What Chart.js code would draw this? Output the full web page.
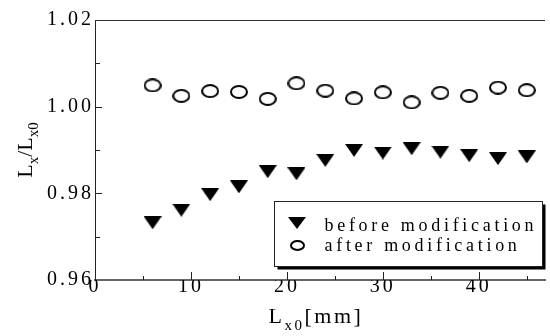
<!DOCTYPE html>
<html><head><meta charset="utf-8">
<script src="https://cdn.jsdelivr.net/npm/chart.js@4"></script>
<style>html,body{margin:0;padding:0;background:#fff;overflow:hidden}</style>
</head><body>
<canvas id="c" width="550" height="336"></canvas>
<script>
// ---- data ----
const xValues = [6, 9, 12, 15, 18, 21, 24, 27, 30, 33, 36, 39, 42, 45];
const beforeValues = [0.9732, 0.9761, 0.9797, 0.9815, 0.9850, 0.9845, 0.9876, 0.9899, 0.9893, 0.9903, 0.9895, 0.9887, 0.9880, 0.9884];
const afterValues = [1.0049, 1.0025, 1.0036, 1.0034, 1.0018, 1.0054, 1.0037, 1.0019, 1.0033, 1.0010, 1.0032, 1.0025, 1.0044, 1.0038];
const seriesLabels = ['before modification', 'after modification'];
const xTickLabels = ['0', '10', '20', '30', '40'];
const yTickLabels = ['0.96', '0.98', '1.00', '1.02'];

const SERIF = '"Liberation Serif", "Times New Roman", serif';

function makeEllipse(w, h, lw) {
  const c = document.createElement('canvas'); c.width = w; c.height = h;
  const g = c.getContext('2d'); g.lineWidth = lw; g.strokeStyle = '#000';
  g.beginPath(); g.ellipse(w / 2, h / 2, w / 2 - lw / 2, h / 2 - lw / 2, 0, 0, Math.PI * 2); g.stroke();
  return c;
}
function makeTriangle(w, h) {
  const c = document.createElement('canvas'); c.width = w; c.height = h;
  const g = c.getContext('2d'); g.fillStyle = '#000';
  g.beginPath(); g.moveTo(0, 0); g.lineTo(w, 0); g.lineTo(w / 2, h); g.closePath(); g.fill();
  return c;
}
const triMark = makeTriangle(18, 13);
const circMark = makeEllipse(18, 14, 2);
const triLegend = makeTriangle(18, 12);
const circLegend = makeEllipse(15, 11, 2);

function pts(ys) { return xValues.map((x, i) => ({ x: x, y: ys[i] })); }

function drawRich(ctx, parts, spacing) {
  let total = 0;
  ctx.letterSpacing = spacing + 'px';
  parts.forEach(p => { ctx.font = p[1] + 'px ' + SERIF; total += ctx.measureText(p[0]).width; });
  let x = -total / 2;
  parts.forEach(p => {
    ctx.font = p[1] + 'px ' + SERIF;
    ctx.fillText(p[0], x, p[2]);
    x += ctx.measureText(p[0]).width;
  });
}

const framePlugin = {
  id: 'frame',
  beforeDraw(chart) { chart.ctx.letterSpacing = '3px'; },
  afterDraw(chart) {
    const ctx = chart.ctx, a = chart.chartArea;
    const xs = chart.scales.x, ys = chart.scales.y;
    ctx.save();
    ctx.letterSpacing = '0px';
    // top frame line
    ctx.strokeStyle = '#333'; ctx.lineWidth = 1;
    ctx.beginPath(); ctx.moveTo(a.left, a.top + 0.5); ctx.lineTo(a.right, a.top + 0.5); ctx.stroke();
    // inward ticks
    ctx.strokeStyle = '#222'; ctx.lineWidth = 1;
    xs.ticks.forEach(t => {
      const px = Math.round(xs.getPixelForValue(t.value)) + 0.5;
      const major = Math.round(t.value) % 10 === 0;
      if (t.value <= 0) return;
      ctx.beginPath(); ctx.moveTo(px, a.bottom); ctx.lineTo(px, a.bottom - (major ? 8 : 4)); ctx.stroke();
    });
    ys.ticks.forEach(t => {
      const py = Math.round(ys.getPixelForValue(t.value)) + 0.5;
      const major = Math.round(t.value * 100) % 2 === 0;
      if (Math.abs(t.value - ys.min) < 1e-9 || Math.abs(t.value - ys.max) < 1e-9) return;
      ctx.beginPath(); ctx.moveTo(a.left, py); ctx.lineTo(a.left + (major ? 7 : 5), py); ctx.stroke();
    });
    // legend box
    const lx = a.left + 179.5, ly = a.top + 181.5, lw = 268, lh = 65;
    ctx.fillStyle = '#000'; ctx.fillRect(lx + 3, ly + 3, lw, lh);
    ctx.fillStyle = '#fff'; ctx.fillRect(lx, ly, lw, lh);
    ctx.strokeStyle = '#222'; ctx.lineWidth = 1; ctx.strokeRect(lx, ly, lw, lh);
    const marks = [triLegend, circLegend];
    const markY = [ly + 21.5, ly + 43.5];
    const baseY = [ly + 29, ly + 49];
    ctx.fillStyle = '#000';
    ctx.font = '18px ' + SERIF; ctx.letterSpacing = '3.7px';
    ctx.textBaseline = 'alphabetic'; ctx.textAlign = 'left';
    chart.data.datasets.forEach((ds, i) => {
      const m = marks[i];
      ctx.drawImage(m, Math.round(lx + 22.5 - m.width / 2), Math.round(markY[i] - m.height / 2));
      ctx.fillText(ds.label, lx + 50, baseY[i]);
    });
    // x axis title: L_x0[mm]
    ctx.save();
    ctx.translate(a.left + 221, 323);
    drawRich(ctx, [['L', 22, 0], ['x0', 15, 7], ['[mm]', 22, 0]], 2.5);
    ctx.restore();
    // y axis title: L_x/L_x0
    ctx.save();
    ctx.translate(31.5, (a.top + a.bottom) / 2);
    ctx.rotate(-Math.PI / 2);
    drawRich(ctx, [['L', 22, 0], ['x', 15, 6], ['/', 22, 0], ['L', 22, 0], ['x0', 15, 6]], 0);
    ctx.restore();
    ctx.restore();
  }
};

new Chart(document.getElementById('c'), {
  type: 'scatter',
  data: {
    datasets: [
      { label: seriesLabels[0], data: pts(beforeValues), pointStyle: triMark, showLine: false },
      { label: seriesLabels[1], data: pts(afterValues), pointStyle: circMark, showLine: false }
    ]
  },
  options: {
    responsive: false,
    animation: false,
    events: [],
    layout: { padding: { top: 20, right: 0, left: 0, bottom: 0 } },
    plugins: { legend: { display: false }, tooltip: { enabled: false } },
    scales: {
      x: {
        type: 'linear', min: 0, max: 46.9,
        grid: { display: false, drawTicks: false },
        border: { display: true, color: '#666', width: 2 },
        ticks: {
          stepSize: 5, includeBounds: false, autoSkip: false, maxRotation: 0, padding: -5,
          color: '#000', font: { family: SERIF, size: 20 },
          callback: v => xTickLabels.includes(String(Math.round(v))) && Math.abs(v - Math.round(v)) < 1e-9 ? String(Math.round(v)) : ''
        },
        afterFit: s => { s.height = 56; }
      },
      y: {
        type: 'linear', min: 0.96, max: 1.02,
        grid: { display: false, drawTicks: false },
        border: { display: true, color: '#222', width: 1 },
        ticks: {
          stepSize: 0.01, autoSkip: false, padding: 1,
          color: '#000', font: { family: SERIF, size: 20 },
          callback: v => { const s = v.toFixed(2); return yTickLabels.includes(s) ? s : ''; }
        },
        afterFit: s => { s.width = 95; }
      }
    }
  },
  plugins: [framePlugin]
});
</script>
</body></html>
